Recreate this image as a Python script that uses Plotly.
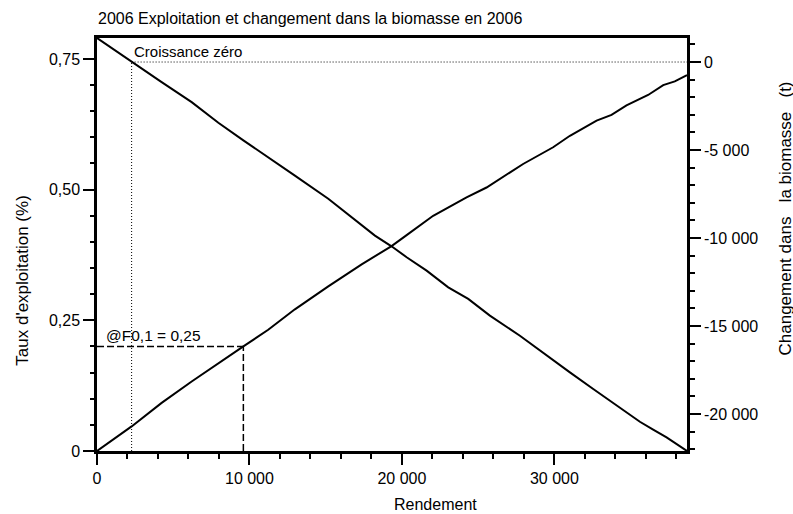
import plotly.graph_objects as go

# ---------------- data ----------------
yield_rate = [0, 2270, 4240, 6210, 9600, 11230, 12980, 15170, 17360, 19320, 20310,
              22050, 24240, 25550, 27950, 29920, 31020, 32770, 33750, 34730, 36150,
              37140, 37900, 38700]
rate = [0, 0.047, 0.092, 0.133, 0.200, 0.232, 0.271, 0.315, 0.357, 0.392, 0.413,
        0.450, 0.485, 0.504, 0.549, 0.581, 0.603, 0.632, 0.643, 0.661, 0.681,
        0.700, 0.707, 0.719]

yield_bio = [0, 2270, 4240, 6210, 7960, 9600, 11230, 12980, 15170, 17360, 18230,
             19320, 20310, 21620, 23040, 24350, 25770, 27740, 29490, 31020, 32550,
             33750, 34620, 35610, 36480, 37360, 38700]
bio_change = [1365, 0, -1140, -2280, -3450, -4450, -5400, -6450, -7770, -9290, -9860,
              -10470, -11090, -11850, -12800, -13460, -14410, -15550, -16680, -17630,
              -18580, -19300, -19810, -20440, -20890, -21330, -22100]

zero_growth_yield = 2270
f01_yield = 9600
f01_rate = 0.2

x_tickvals = [0, 10000, 20000, 30000]
x_ticktext = ["0", "10 000", "20 000", "30 000"]
y_tickvals = [0, 0.25, 0.5, 0.75]
y_ticktext = ["0", "0,25", "0,50", "0,75"]
y2_tickvals = [0, -5000, -10000, -15000, -20000]
y2_ticktext = ["0", "-5 000", "-10 000", "-15 000", "-20 000"]

title_text = "2006 Exploitation et changement dans la biomasse en 2006"
x_title = "Rendement"
y_title = "Taux d'exploitation (%)"
y2_title = "Changement dans\u00a0\u00a0\u00a0la biomasse\u00a0\u00a0\u00a0(t)"
zero_label = "Croissance zéro"
f01_label = "@F0,1 = 0,25"

X_RANGE = [0, 38700]
Y_RANGE = [0, 0.79]
Y2_RANGE = [-22100, 1365]

FONT = "Liberation Sans, Arial, sans-serif"

# ---------------- figure ----------------
fig = go.Figure()

fig.add_trace(go.Scatter(x=yield_rate, y=rate, mode="lines",
                         line=dict(color="black", width=2), yaxis="y",
                         showlegend=False, hoverinfo="skip"))
fig.add_trace(go.Scatter(x=yield_bio, y=bio_change, mode="lines",
                         line=dict(color="black", width=2), yaxis="y2",
                         showlegend=False, hoverinfo="skip"))

# zero growth reference lines (dotted)
fig.add_trace(go.Scatter(x=[zero_growth_yield, X_RANGE[1]], y=[0, 0], mode="lines",
                         line=dict(color="black", width=1, dash="1px,2px"), yaxis="y2",
                         showlegend=False, hoverinfo="skip"))
fig.add_trace(go.Scatter(x=[zero_growth_yield, zero_growth_yield], y=[Y2_RANGE[0], 0],
                         mode="lines", line=dict(color="black", width=1, dash="1px,2px"),
                         yaxis="y2", showlegend=False, hoverinfo="skip"))
# F0.1 reference lines (dashed)
fig.add_trace(go.Scatter(x=[0, f01_yield], y=[f01_rate, f01_rate], mode="lines",
                         line=dict(color="black", width=1.5, dash="7px,3px"), yaxis="y",
                         showlegend=False, hoverinfo="skip"))
fig.add_trace(go.Scatter(x=[f01_yield, f01_yield], y=[0, f01_rate], mode="lines",
                         line=dict(color="black", width=1.5, dash="7px,3px"), yaxis="y",
                         showlegend=False, hoverinfo="skip"))

L, R, T, B = 97, 687, 38, 451
W, H = R - L, B - T


def px_x(p):
    return (p - L) / W


def px_y(p):
    return (B - p) / H


axis_common = dict(showgrid=False, zeroline=False, showline=True, linecolor="black",
                   linewidth=2.5, ticks="outside", tickcolor="black", tickwidth=1.5,
                   ticklen=11, tickfont=dict(family=FONT, size=16, color="black"),
                   tickmode="array")

fig.update_layout(
    width=793, height=514,
    margin=dict(l=L, r=793 - R, t=T, b=514 - B),
    paper_bgcolor="white", plot_bgcolor="white",
    font=dict(family=FONT, size=16, color="black"),
    title=dict(text=title_text, x=98 / 793, xanchor="left", y=1 - 18 / 514,
               yanchor="middle", font=dict(family=FONT, size=16, color="black")),
    xaxis=dict(range=X_RANGE, tickvals=x_tickvals, ticktext=x_ticktext, mirror=True,
               minor=dict(tickmode="linear", tick0=0, dtick=2000, ticks="outside",
                          ticklen=5, tickcolor="black", tickwidth=1.5),
               **axis_common),
    yaxis=dict(range=Y_RANGE, tickvals=y_tickvals, ticktext=y_ticktext,
               minor=dict(tickmode="linear", tick0=0, dtick=0.05, ticks="outside",
                          ticklen=4, tickcolor="black", tickwidth=1.5),
               **axis_common),
    yaxis2=dict(range=Y2_RANGE, tickvals=y2_tickvals, ticktext=y2_ticktext,
                overlaying="y", side="right",
                minor=dict(tickmode="linear", tick0=0, dtick=1000, ticks="outside",
                           ticklen=5, tickcolor="black", tickwidth=1.5),
                **axis_common),
    annotations=[
        dict(text=y_title, xref="paper", yref="paper", x=px_x(21.7), y=px_y(280),
             textangle=-90, showarrow=False, xanchor="center", yanchor="middle",
             font=dict(family=FONT, size=17, color="black")),
        dict(text=y2_title, xref="paper", yref="paper", x=px_x(784.5), y=px_y(219),
             textangle=-90, showarrow=False, xanchor="center", yanchor="middle",
             font=dict(family=FONT, size=17, color="black")),
        dict(text=x_title, xref="paper", yref="paper", x=px_x(435), y=px_y(504),
             showarrow=False, xanchor="center", yanchor="middle",
             font=dict(family=FONT, size=16, color="black")),
        dict(text=zero_label, xref="x", yref="y2", x=zero_growth_yield, y=0,
             showarrow=False, xanchor="left", yanchor="bottom",
             font=dict(family=FONT, size=15, color="black")),
        dict(text=f01_label, xref="paper", yref="y", x=px_x(103.5), y=f01_rate,
             showarrow=False, xanchor="left", yanchor="bottom",
             font=dict(family=FONT, size=15.5, color="black")),
    ],
)

fig.write_html("out.html",
               config={"displayModeBar": False},
               post_script="document.body.style.margin='0px';"
                           "document.body.style.overflow='hidden';")
